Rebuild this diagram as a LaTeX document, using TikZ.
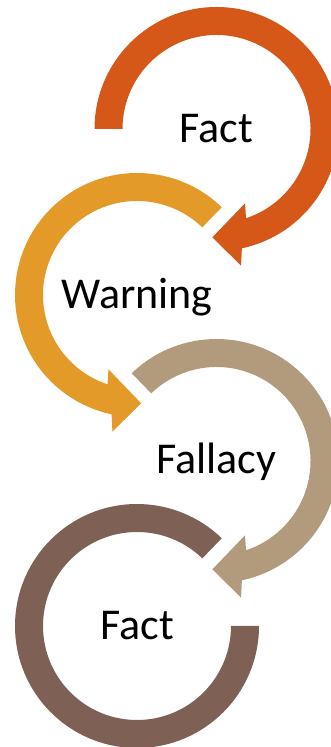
\documentclass[tikz,border=0pt]{standalone}
\usepackage{fontspec}
\setmainfont{Carlito}
\usetikzlibrary{positioning}
\definecolor{factred}{HTML}{D65818}
\definecolor{warnorange}{HTML}{E39A29}
\definecolor{fallacytan}{HTML}{B29B7C}
\definecolor{factbrown}{HTML}{7F6054}
\tikzstyle{word}=[font=\fontsize{44}{52}\selectfont, text=black,
    inner sep=0pt, anchor=base]
\begin{document}
\begin{tikzpicture}
      [x=1pt, y=1pt,
      ring/.style={draw=none, shift={(#1)}}]

      \useasboundingbox (0,0) rectangle (331,747);
      \coordinate (c1) at (216.5,618);
      \coordinate (c2) at (137,452);
      \coordinate (c3) at (216.5,286);
      \coordinate (c4) at (137,121);

      \fill [ring=c1, factred] (180:122) arc[start angle=180, end angle=-78, radius=122]
        -- (-79.8:138.9) -- (-92.2:108.4) -- (-69:79.6)
        -- (-71.7:94) arc[start angle=-71.7, end angle=180, radius=94] -- cycle;
      \fill [ring=c2, warnorange] (46:122) arc[start angle=46, end angle=258, radius=122]
        -- (259.8:138.9) -- (272.2:108.4) -- (249:79.6)
        -- (251.7:94) arc[start angle=251.7, end angle=46, radius=94] -- cycle;
      \fill [ring=c3, fallacytan] (134:122) arc[start angle=134, end angle=-78, radius=122]
        -- (-79.8:138.9) -- (-92.2:108.4) -- (-69:79.6)
        -- (-71.7:94) arc[start angle=-71.7, end angle=134, radius=94] -- cycle;
      \fill [ring=c4, factbrown] (0:122) arc[start angle=0, end angle=-314, radius=122]
        -- (-314:94) arc[start angle=-314, end angle=0, radius=94] -- cycle;

      \node [word] (fact1)   at ([yshift=-14pt]c1) {Fact};
      \node [word] (warning) at ([yshift=-14pt]c2) {Warning};
      \node [word] (fallacy) at ([yshift=-13pt]c3) {Fallacy};
      \node [word] (fact2)   at ([yshift=-14pt]c4) {Fact};

      \end{tikzpicture}
\end{document}
